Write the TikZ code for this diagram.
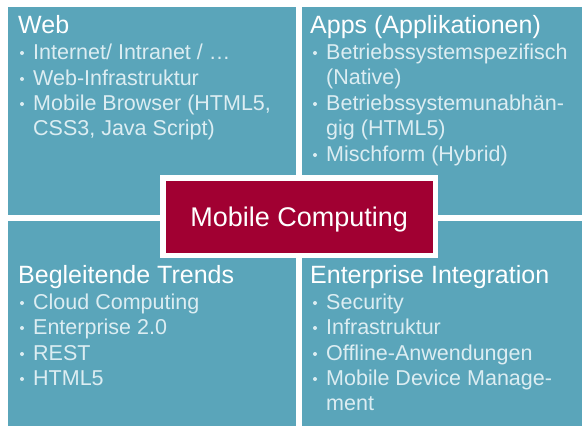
\documentclass[tikz,border=0pt]{standalone}
\usepackage{fontspec}
\setmainfont{Liberation Sans}
\usepackage{tikz}
\usetikzlibrary{positioning}

\definecolor{quadblue}{HTML}{5AA5BA}
\definecolor{corered}{HTML}{A10032}
\definecolor{itemwhite}{HTML}{DCEDF2}

\tikzset{
  quad/.style = {rectangle, fill = quadblue, draw = none,
    anchor = north west, inner sep = 0pt},
  head/.style = {anchor = base west, inner sep = 0pt, text = white,
    font = \fontsize{25}{26}\selectfont},
  item/.style = {anchor = base west, inner sep = 0pt, text = itemwhite,
    font = \fontsize{21.5}{25}\selectfont},
  core/.style = {rectangle, fill = corered, draw = white,
    line width = 5.5pt, text = white,
    minimum width = 272.5pt, minimum height = 77.5pt,
    text height = 19.3pt, text depth = 0pt,
    font = \fontsize{27}{28}\selectfont},
}

\begin{document}
\begin{tikzpicture}[x = 1pt, y = -1pt]
        \useasboundingbox[fill = white] (0,0) rectangle (583,426);

        % the four fields
        \node[quad, minimum width = 288pt, minimum height = 208pt]
          (web) at (8,7) {};
        \node[quad, minimum width = 280pt, minimum height = 208pt]
          (apps) at (302,7) {};
        \node[quad, minimum width = 288pt, minimum height = 205pt]
          (trends) at (8,221) {};
        \node[quad, minimum width = 280pt, minimum height = 205pt]
          (integ) at (302,221) {};

        % Web
        \node[head] (webH) at (18,33) {Web};
        \node[item] (web1) at (33,59) {Internet/ Intranet / \dots};
        \node[item] (web2) at (33,85) {Web-Infrastruktur};
        \node[item] (web3) at (33,110) {Mobile Browser (HTML5,};
        \node[item] (web3b) at (33,135) {CSS3, Java Script)};

        % Apps
        \node[head] (appsH) at (310,33) {Apps (Applikationen)};
        \node[item] (apps1) at (326,59) {Betriebssystemspezifisch};
        \node[item] (apps1b) at (326,84.5) {(Native)};
        \node[item] (apps2) at (326,110) {Betriebssystemunabhän-};
        \node[item] (apps2b) at (326,135.5) {gig (HTML5)};
        \node[item] (apps3) at (326,161) {Mischform (Hybrid)};

        % Begleitende Trends
        \node[head] (trendsH) at (18,283) {Begleitende Trends};
        \node[item] (trends1) at (33,309) {Cloud Computing};
        \node[item] (trends2) at (33,334) {Enterprise 2.0};
        \node[item] (trends3) at (33,360) {REST};
        \node[item] (trends4) at (33,385) {HTML5};

        % Enterprise Integration
        \node[head] (integH) at (310,283) {Enterprise Integration};
        \node[item] (integ1) at (326,309) {Security};
        \node[item] (integ2) at (326,334) {Infrastruktur};
        \node[item] (integ3) at (326,360) {Offline-Anwendungen};
        \node[item] (integ4) at (326,385) {Mobile Device Manage-};
        \node[item] (integ4b) at (326,410.5) {ment};

        % bullets
        \foreach \n in {web1, web2, web3, apps1, apps2, apps3,
                        trends1, trends2, trends3, trends4,
                        integ1, integ2, integ3, integ4}
          \fill[itemwhite] ([shift = {(-11pt,6pt)}]\n.base west) circle (2pt);

        % centre
        \node[core] (mc) at (299.25,216.5) {Mobile Computing};
      \end{tikzpicture}
\end{document}
